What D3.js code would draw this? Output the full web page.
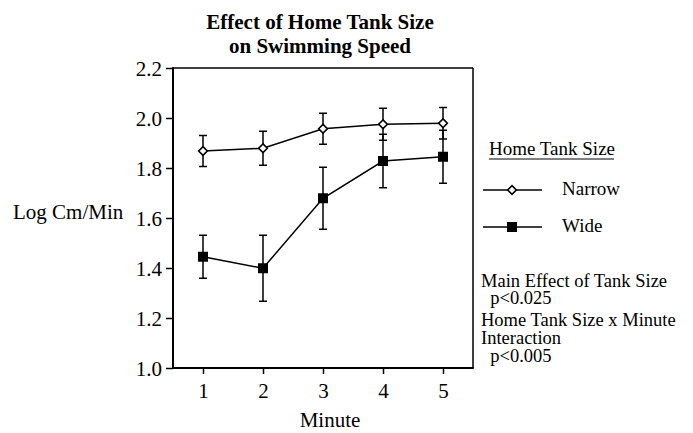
<!DOCTYPE html>
<html><head><meta charset="utf-8">
<script src="https://cdn.jsdelivr.net/npm/d3@7"></script>
<style>
html,body{margin:0;padding:0;background:#fff;}
svg{display:block;}
</style></head>
<body>
<svg id="chart" width="693" height="433"></svg>
<script>
const minutes = [1, 2, 3, 4, 5];
const narrowMean = [1.868, 1.879, 1.957, 1.975, 1.979];
const narrowErr  = [0.062, 0.068, 0.062, 0.064, 0.063];
const wideMean   = [1.445, 1.399, 1.679, 1.828, 1.845];
const wideErr    = [0.086, 0.132, 0.124, 0.107, 0.106];
const yTicks = [1.0, 1.2, 1.4, 1.6, 1.8, 2.0, 2.2];
const titleLines = ["Effect of Home Tank Size", "on Swimming Speed"];
const legendTitle = "Home Tank Size";
const seriesNames = ["Narrow", "Wide"];
const noteLines = ["Main Effect of Tank Size", "  p<0.025", "Home Tank Size x Minute", "Interaction", "  p<0.005"];

const FONT = "'Liberation Serif', 'Times New Roman', Times, 'DejaVu Serif', serif";
const svg = d3.select("#chart").attr("font-family", FONT).style("font-family", FONT);
const x = d3.scaleLinear().domain([0.5, 5.5]).range([173, 473]);
const y = d3.scaleLinear().domain([1.0, 2.2]).range([368, 68]);

function txt(sel) { return sel.style("font-family", FONT).attr("fill", "#000"); }

// title
txt(svg.append("g").selectAll("text").data(titleLines).join("text"))
  .attr("x", 320).attr("y", (d, i) => 29 + i * 24)
  .attr("text-anchor", "middle").attr("font-weight", "bold").attr("font-size", 21)
  .text(d => d);

// frame
svg.append("line").attr("x1", x(0.5)).attr("x2", x(5.5)).attr("y1", y(2.2)).attr("y2", y(2.2)).attr("stroke", "#000").attr("stroke-width", 1.5);
svg.append("line").attr("x1", x(5.5)).attr("x2", x(5.5)).attr("y1", y(2.2)).attr("y2", y(1.0)).attr("stroke", "#000").attr("stroke-width", 1.5);

// axes
const yAxis = svg.append("g").attr("transform", `translate(${x(0.5)},0)`)
  .call(d3.axisLeft(y).tickValues(yTicks).tickFormat(d3.format(".1f")).tickSize(7).tickPadding(4));
const xAxis = svg.append("g").attr("transform", `translate(0,${y(1.0)})`)
  .call(d3.axisBottom(x).tickValues(minutes).tickFormat(d3.format("d")).tickSize(6).tickPadding(9));
[yAxis, xAxis].forEach(g => {
  g.attr("font-family", null);
  g.select(".domain").remove();
  g.selectAll(".tick line").attr("stroke", "#000").attr("stroke-width", 1.5);
  txt(g.selectAll(".tick text")).attr("font-size", 21);
});
yAxis.selectAll(".tick text").attr("dy", "0.34em");
svg.append("line").attr("x1", x(0.5)).attr("x2", x(0.5)).attr("y1", y(2.2) - 0.75).attr("y2", y(1.0) + 1).attr("stroke", "#000").attr("stroke-width", 2);
svg.append("line").attr("x1", x(0.5)).attr("x2", x(5.5) + 0.75).attr("y1", y(1.0)).attr("y2", y(1.0)).attr("stroke", "#000").attr("stroke-width", 2);

// axis labels
txt(svg.append("text")).attr("x", 330).attr("y", 427).attr("text-anchor", "middle").attr("font-size", 21).text("Minute");
txt(svg.append("text")).attr("x", 13).attr("y", 219).attr("font-size", 21).text("Log Cm/Min");

const series = [
  {name: seriesNames[0], mean: narrowMean, err: narrowErr, sym: "diamond"},
  {name: seriesNames[1], mean: wideMean, err: wideErr, sym: "square"}
];
const line = d3.line().x((d, i) => x(minutes[i])).y(d => y(d));
const capW = 4;

function drawMarker(g, sym, cx, cy) {
  if (sym === "diamond") {
    g.append("path").attr("d", d3.symbol(d3.symbolDiamond2, 48)())
      .attr("transform", `translate(${cx},${cy})`)
      .attr("fill", "#fff").attr("stroke", "#000").attr("stroke-width", 1.6);
  } else {
    g.append("path").attr("d", d3.symbol(d3.symbolSquare, 100)())
      .attr("transform", `translate(${cx},${cy})`)
      .attr("fill", "#000");
  }
}

series.forEach(s => {
  const g = svg.append("g");
  s.mean.forEach((m, i) => {
    const cx = x(minutes[i]);
    const hi = y(m + s.err[i]), lo = y(m - s.err[i]);
    g.append("line").attr("x1", cx).attr("x2", cx).attr("y1", hi).attr("y2", lo).attr("stroke", "#000").attr("stroke-width", 1.5);
    [hi, lo].forEach(yy => g.append("line").attr("x1", cx - capW).attr("x2", cx + capW).attr("y1", yy).attr("y2", yy).attr("stroke", "#000").attr("stroke-width", 1.5));
  });
});
series.forEach(s => {
  const g = svg.append("g");
  g.append("path").datum(s.mean).attr("d", line).attr("fill", "none").attr("stroke", "#000").attr("stroke-width", 1.5);
  s.mean.forEach((m, i) => drawMarker(g, s.sym, x(minutes[i]), y(m)));
});

// legend
const lg = svg.append("g");
txt(lg.append("text")).attr("x", 489).attr("y", 155).attr("font-size", 19).text(legendTitle);
lg.append("line").attr("x1", 489).attr("x2", 614).attr("y1", 159).attr("y2", 159).attr("stroke", "#000").attr("stroke-width", 1);
series.forEach((s, i) => {
  const ly = 190 + i * 37;
  lg.append("line").attr("x1", 483).attr("x2", 542).attr("y1", ly).attr("y2", ly).attr("stroke", "#000").attr("stroke-width", 1.5);
  drawMarker(lg, s.sym, 512, ly);
  txt(lg.append("text")).attr("x", 562).attr("y", ly + 5).attr("font-size", 19).text(s.name);
});

// notes
const noteY = [287, 304, 326, 344, 362];
txt(svg.append("g").selectAll("text").data(noteLines).join("text"))
  .attr("x", 481).attr("y", (d, i) => noteY[i]).attr("font-size", 18.5)
  .style("white-space", "pre")
  .text(d => d);
</script>
</body></html>
